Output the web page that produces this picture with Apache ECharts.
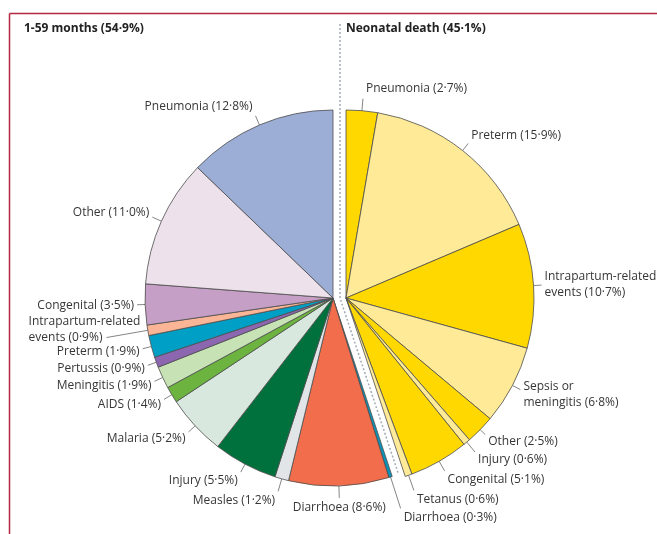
<!DOCTYPE html>
<html>
<head>
<meta charset="utf-8">
<script src="https://cdn.jsdelivr.net/npm/echarts@6/dist/echarts.min.js"></script>
<style>
  html, body { margin: 0; padding: 0; background: #fff; }
  #chart { width: 657px; height: 534px; }
</style>
</head>
<body>
<div id="chart"></div>
<script>
// 1-59 months, clockwise from the bottom of the split up to 12 o'clock
const childNames = ['Diarrhoea (0·3%)', 'Diarrhoea (8·6%)', 'Measles (1·2%)', 'Injury (5·5%)', 'Malaria (5·2%)',
    'AIDS (1·4%)', 'Meningitis (1·9%)', 'Pertussis (0·9%)', 'Preterm (1·9%)', 'Intrapartum-related\nevents (0·9%)',
    'Congenital (3·5%)', 'Other (11·0%)', 'Pneumonia (12·8%)'];
const childValues = [0.3, 8.6, 1.2, 5.5, 5.2, 1.4, 1.9, 0.9, 1.9, 0.9, 3.5, 11.0, 12.8];

// neonatal, clockwise from 12 o'clock
const neoNames = ['Pneumonia (2·7%)', 'Preterm (15·9%)', 'Intrapartum-related\nevents (10·7%)',
    'Sepsis or\nmeningitis (6·8%)', 'Other (2·5%)', 'Injury (0·6%)', 'Congenital (5·1%)', 'Tetanus (0·6%)'];
const neoValues = [2.7, 15.9, 10.7, 6.8, 2.5, 0.6, 5.1, 0.6];

const groupTitles = ['1-59 months (54·9%)', 'Neonatal death (45·1%)'];

// styles
const childColors = ['#0b93b9', '#f26d4b', '#e1e5e8', '#00703c', '#d8e8df', '#6cb33f', '#c7e2b5',
    '#8c66ae', '#00a0c6', '#f9b596', '#c59fc5', '#ede1eb', '#9daed6'];
const neoColors = ['#ffd800', '#ffea98', '#ffd800', '#ffea98', '#ffd800', '#ffea98', '#ffd800', '#ffea98'];
const childTicks = [33, 12, 13, 9, 9, 9, 9, 9, 9, 42, 8, 10, 10];
const neoTicks = [12, 9, 8, 9, 7, 13, 11, 16];

const R = 188;
const childCenter = [333, 298];
const neoCenter = [346, 298];
const frameColor = '#b3283f';
const labelFont = 'Open Sans';
const labelSize = 12;
const lineH = 16;

function sum(arr) { return arr.reduce((a, b) => a + b, 0); }
const total = sum(childValues) + sum(neoValues);

// mid angle (radians, clockwise from 12 o'clock) of each slice
function midAngles(values, startValue) {
    let acc = startValue;
    return values.map(v => {
        const m = (acc + v / 2) / total * Math.PI * 2;
        acc += v;
        return m;
    });
}
const childMids = midAngles(childValues, sum(neoValues));
const neoMids = midAngles(neoValues, 0);

const measureCtx = document.createElement('canvas').getContext('2d');
function textWidth(str) {
    measureCtx.font = labelSize + 'px "' + labelFont + '"';
    return measureCtx.measureText(str).width;
}

// short radial tick, text pushed out along the same direction
function placeLabel(name, center, mid, tick) {
    const s = Math.sin(mid), c = Math.cos(mid);
    const x0 = center[0] + R * s, y0 = center[1] - R * c;
    const x1 = center[0] + (R + tick) * s, y1 = center[1] - (R + tick) * c;
    const lines = String(name).split('\n');
    const h = lines.length * lineH;
    let align = s > 0.06 ? 'left' : (s < -0.06 ? 'right' : 'center');
    let x = align === 'left' ? x1 + 3 : (align === 'right' ? x1 - 3 : x1);
    let y = y1 - c * (lineH / 2 + 2);
    if (lines.length > 1 && align === 'right') {
        // left-aligned block whose last line ends at the tick
        align = 'left';
        x = x1 - 4 - textWidth(lines[lines.length - 1]);
        y = y1 - (h / 2 - lineH / 2);
    }
    return {
        x: x, y: y, align: align, verticalAlign: 'middle',
        labelLinePoints: [[x0, y0], [x1, y1], [x1, y1]]
    };
}

const filler = (value) => ({
    value: value,
    itemStyle: { color: 'rgba(0,0,0,0)', borderWidth: 0 },
    label: { show: false },
    labelLine: { show: false },
    emphasis: { disabled: true }
});

const pieBase = {
    type: 'pie',
    radius: R,
    startAngle: 90,
    clockwise: true,
    avoidLabelOverlap: false,
    silent: true,
    label: {
        show: true,
        position: 'outside',
        color: '#363636',
        fontFamily: labelFont,
        fontSize: labelSize,
        lineHeight: lineH,
        formatter: '{b}'
    },
    labelLine: { show: true, length: 8, length2: 0, lineStyle: { color: '#666', width: 0.8 } },
    itemStyle: { borderColor: '#4d4d4d', borderWidth: 0.8 },
    emphasis: { disabled: true }
};

const childData = [filler(sum(neoValues))].concat(childValues.map((v, i) => ({
    name: childNames[i], value: v, itemStyle: { color: childColors[i] }
})));
const neoData = neoValues.map((v, i) => ({
    name: neoNames[i], value: v, itemStyle: { color: neoColors[i] }
})).concat([filler(sum(childValues))]);

// dashed split: vertical down to the centre, then along the gap
const gapMid = sum(neoValues) / total * Math.PI * 2;
const gapX = (childCenter[0] + neoCenter[0]) / 2 + 0.5;
const dashPts = [[gapX, 24], [gapX, childCenter[1]],
    [gapX + (R - 4) * Math.sin(gapMid), childCenter[1] - (R - 4) * Math.cos(gapMid)]];

const chart = echarts.init(document.getElementById('chart'));
chart.setOption({
    animation: false,
    graphic: [
        { type: 'line', shape: { x1: 9.5, y1: 13.5, x2: 657, y2: 13.5 }, style: { stroke: frameColor, lineWidth: 1.5 } },
        { type: 'line', shape: { x1: 9.5, y1: 13.5, x2: 9.5, y2: 534 }, style: { stroke: frameColor, lineWidth: 1.5 } },
        { type: 'polyline', shape: { points: dashPts }, style: { stroke: '#a3abb3', lineWidth: 1.5, lineDash: [2, 2], fill: null } },
        { type: 'text', left: 24, top: 23, style: { text: groupTitles[0], font: 'bold 12px "Open Sans"', fill: '#222' } },
        { type: 'text', left: 346, top: 23, style: { text: groupTitles[1], font: 'bold 12px "Open Sans"', fill: '#222' } }
    ],
    series: [
        Object.assign({}, pieBase, {
            center: childCenter,
            data: childData,
            labelLayout: (p) => {
                const i = p.dataIndex - 1;
                return placeLabel(childNames[i], childCenter, childMids[i], childTicks[i]);
            }
        }),
        Object.assign({}, pieBase, {
            center: neoCenter,
            data: neoData,
            labelLayout: (p) => {
                const i = p.dataIndex;
                return placeLabel(neoNames[i], neoCenter, neoMids[i], neoTicks[i]);
            }
        })
    ]
});
</script>
</body>
</html>
